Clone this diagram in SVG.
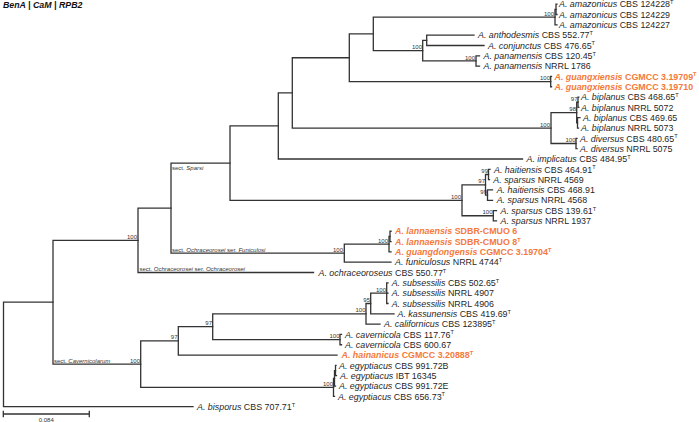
<svg xmlns="http://www.w3.org/2000/svg" width="699" height="422" viewBox="0 0 699 422">
<style>
text{font-family:"Liberation Sans",Arial,sans-serif;}
.lf{font-size:8.9px;fill:#1f1f1f;}
.sp{font-style:italic;}
.nw{font-weight:bold;fill:#f47a3c;}
.sup{font-size:5.6px;}
.bs{font-size:6px;fill:#333;text-anchor:end;}
.sec{font-size:6px;fill:#333;}
.br{fill:none;stroke:#333;stroke-width:1.3;stroke-linecap:square;}
.title{font-size:8.8px;font-weight:bold;font-style:italic;fill:#111;}
</style>
<rect width="699" height="422" fill="#fff"/>
<text class="title" x="3" y="7.8">BenA | CaM | RPB2</text>

<g id="branches" class="br">
<path d="M3.5,302.2V406.68M3.5,302.2H53M3.5,406.68H193"/>
<path d="M53,240.3V364.1M53,240.3H138M53,364.1H140.7"/>
<path d="M138,208.1V272.52M138,208.1H171M138,272.52H313.5"/>
<path d="M171,163.1V253.17M171,163.1H230M171,253.17H344.3"/>
<path d="M230,125.95V200.28M230,125.95H278.3M230,200.28H462"/>
<path d="M278.3,92.89V159M278.3,92.89H292.3M278.3,159H522.5"/>
<path d="M292.3,57.74V128.04M292.3,57.74H349.3M292.3,128.04H551"/>
<path d="M349.3,33.87V81.6M349.3,33.87H373.3M349.3,81.6H550.7"/>
<path d="M373.3,17.1V50.64M373.3,17.1H555M373.3,50.64H422.7"/>
<path d="M555,9.36V24.84M555,9.36H556M555,24.84H557"/>
<path d="M556,4.2V14.52M556,4.2H557M556,14.52H557"/>
<path d="M422.7,40.32V60.96M422.7,40.32H426.7M422.7,60.96H476"/>
<path d="M426.7,35.16V45.48M426.7,35.16H474M426.7,45.48H484"/>
<path d="M476,55.8V66.12M476,55.8H479.5M476,66.12H479.5"/>
<path d="M550.7,76.44V86.76M550.7,76.44H551.5M550.7,86.76H551.5"/>
<path d="M551,112.56V143.52M551,112.56H576.7M551,143.52H576"/>
<path d="M576.7,102.24V122.88M576.7,102.24H578M576.7,122.88H577.5"/>
<path d="M578,97.08V107.4M578,97.08H578.8M578,107.4H578.8"/>
<path d="M577.5,117.72V128.04M577.5,117.72H580M577.5,128.04H578.5"/>
<path d="M576,138.36V148.68M576,138.36H577M576,148.68H577"/>
<path d="M462,184.8V215.76M462,184.8H485.5M462,215.76H493.3"/>
<path d="M485.5,174.48V195.12M485.5,174.48H488.5M485.5,195.12H487.5"/>
<path d="M488.5,169.32V179.64M488.5,169.32H490M488.5,179.64H489.5"/>
<path d="M487.5,189.96V200.28M487.5,189.96H492.5M487.5,200.28H492.5"/>
<path d="M493.3,210.6V220.92M493.3,210.6H496.5M493.3,220.92H496.5"/>
<path d="M344.3,244.14V262.2M344.3,244.14H389M344.3,262.2H391"/>
<path d="M389,236.4V251.88M389,236.4H390M389,251.88H391"/>
<path d="M390,231.24V241.56M390,231.24H391M390,241.56H391"/>
<path d="M140.7,340.9V387.33M140.7,340.9H178.3M140.7,387.33H333.5"/>
<path d="M178.3,326.7V355.08M178.3,326.7H212.7M178.3,355.08H337"/>
<path d="M212.7,313.8V339.6M212.7,313.8H366M212.7,339.6H340"/>
<path d="M366,303.48V324.12M366,303.48H370.7M366,324.12H380"/>
<path d="M370.7,293.16V313.8M370.7,293.16H386.7M370.7,313.8H394"/>
<path d="M386.7,282.84V303.48M386.7,282.84H388M386.7,293.16H388M386.7,303.48H388"/>
<path d="M340,334.44V344.76M340,334.44H341.5M340,344.76H341.5"/>
<path d="M333.5,378.3V396.36M333.5,378.3H334.5M333.5,396.36H334.5"/>
<path d="M334.5,370.56V386.04M334.5,370.56H335.5M334.5,386.04H335.5"/>
<path d="M335.5,365.4V375.72M335.5,365.4H336M335.5,375.72H336.5"/>
</g>

<g id="supports">
<text class="bs" x="137" y="238.8">100</text>
<text class="bs" x="343" y="251.7">100</text>
<text class="bs" x="388" y="242.6">100</text>
<text class="bs" x="461" y="198.8">100</text>
<text class="bs" x="485" y="183.3">97</text>
<text class="bs" x="488" y="173">99</text>
<text class="bs" x="487" y="193.6">99</text>
<text class="bs" x="492.5" y="214.3">100</text>
<text class="bs" x="554" y="15.6">100</text>
<text class="bs" x="422" y="49.1">100</text>
<text class="bs" x="475" y="59.5">100</text>
<text class="bs" x="550" y="80.1">100</text>
<text class="bs" x="550" y="126.5">100</text>
<text class="bs" x="577.5" y="100.7">97</text>
<text class="bs" x="576" y="111">98</text>
<text class="bs" x="575.5" y="142">100</text>
<text class="bs" x="140" y="362.6">100</text>
<text class="bs" x="177.5" y="339.4">97</text>
<text class="bs" x="212" y="325.2">97</text>
<text class="bs" x="365.5" y="312.3">100</text>
<text class="bs" x="370" y="302">95</text>
<text class="bs" x="386" y="291.7">100</text>
<text class="bs" x="339.5" y="338.1">100</text>
<text class="bs" x="333" y="385.8">100</text>
</g>

<g id="sections">
<text class="sec" x="172" y="169.5">sect. <tspan class="sp">Sparsi</tspan></text>
<text class="sec" x="172" y="251.7">sect. <tspan class="sp">Ochraceorosei</tspan> ser. <tspan class="sp">Funiculosi</tspan></text>
<text class="sec" x="139.5" y="271">sect. <tspan class="sp">Ochraceorosei</tspan> ser. <tspan class="sp">Ochraceorosei</tspan></text>
<text class="sec" x="54" y="362.6">sect. <tspan class="sp">Cavernicolarum</tspan></text>
</g>

<g id="leaves" class="lf">
<g id="leaf0"><text x="559" y="7.4"><tspan class="sp">A. amazonicus</tspan> CBS 124228<tspan class="sup" dy="-3.2">T</tspan></text></g>
<g id="leaf1"><text x="559" y="17.72"><tspan class="sp">A. amazonicus</tspan> CBS 124229</text></g>
<g id="leaf2"><text x="559" y="28.04"><tspan class="sp">A. amazonicus</tspan> CBS 124227</text></g>
<g id="leaf3"><text x="478" y="38.36"><tspan class="sp">A. anthodesmis</tspan> CBS 552.77<tspan class="sup" dy="-3.2">T</tspan></text></g>
<g id="leaf4"><text x="488" y="48.68"><tspan class="sp">A. conjunctus</tspan> CBS 476.65<tspan class="sup" dy="-3.2">T</tspan></text></g>
<g id="leaf5"><text x="483.5" y="59"><tspan class="sp">A. panamensis</tspan> CBS 120.45<tspan class="sup" dy="-3.2">T</tspan></text></g>
<g id="leaf6"><text x="483.5" y="69.32"><tspan class="sp">A. panamensis</tspan> NRRL 1786</text></g>
<g id="leaf7"><text class="nw" x="554.5" y="79.64"><tspan class="sp">A. guangxiensis</tspan> CGMCC 3.19709<tspan class="sup" dy="-3.2">T</tspan></text></g>
<g id="leaf8"><text class="nw" x="554.5" y="89.96"><tspan class="sp">A. guangxiensis</tspan> CGMCC 3.19710</text></g>
<g id="leaf9"><text x="581" y="100.28"><tspan class="sp">A. biplanus</tspan> CBS 468.65<tspan class="sup" dy="-3.2">T</tspan></text></g>
<g id="leaf10"><text x="581" y="110.6"><tspan class="sp">A. biplanus</tspan> NRRL 5072</text></g>
<g id="leaf11"><text x="583" y="120.92"><tspan class="sp">A. biplanus</tspan> CBS 469.65</text></g>
<g id="leaf12"><text x="581" y="131.24"><tspan class="sp">A. biplanus</tspan> NRRL 5073</text></g>
<g id="leaf13"><text x="580" y="141.56"><tspan class="sp">A. diversus</tspan> CBS 480.65<tspan class="sup" dy="-3.2">T</tspan></text></g>
<g id="leaf14"><text x="580" y="151.88"><tspan class="sp">A. diversus</tspan> NRRL 5075</text></g>
<g id="leaf15"><text x="526.5" y="162.2"><tspan class="sp">A. implicatus</tspan> CBS 484.95<tspan class="sup" dy="-3.2">T</tspan></text></g>
<g id="leaf16"><text x="494" y="172.52"><tspan class="sp">A. haitiensis</tspan> CBS 464.91<tspan class="sup" dy="-3.2">T</tspan></text></g>
<g id="leaf17"><text x="493.3" y="182.84"><tspan class="sp">A. sparsus</tspan> NRRL 4569</text></g>
<g id="leaf18"><text x="496.7" y="193.16"><tspan class="sp">A. haitiensis</tspan> CBS 468.91</text></g>
<g id="leaf19"><text x="496.7" y="203.48"><tspan class="sp">A. sparsus</tspan> NRRL 4568</text></g>
<g id="leaf20"><text x="500.5" y="213.8"><tspan class="sp">A. sparsus</tspan> CBS 139.61<tspan class="sup" dy="-3.2">T</tspan></text></g>
<g id="leaf21"><text x="500.5" y="224.12"><tspan class="sp">A. sparsus</tspan> NRRL 1937</text></g>
<g id="leaf22"><text class="nw" x="395" y="234.44"><tspan class="sp">A. lannaensis</tspan> SDBR-CMUO 6</text></g>
<g id="leaf23"><text class="nw" x="395" y="244.76"><tspan class="sp">A. lannaensis</tspan> SDBR-CMUO 8<tspan class="sup" dy="-3.2">T</tspan></text></g>
<g id="leaf24"><text class="nw" x="395" y="255.08"><tspan class="sp">A. guangdongensis</tspan> CGMCC 3.19704<tspan class="sup" dy="-3.2">T</tspan></text></g>
<g id="leaf25"><text x="395" y="265.4"><tspan class="sp">A. funiculosus</tspan> NRRL 4744<tspan class="sup" dy="-3.2">T</tspan></text></g>
<g id="leaf26"><text x="318.5" y="275.72"><tspan class="sp">A. ochraceoroseus</tspan> CBS 550.77<tspan class="sup" dy="-3.2">T</tspan></text></g>
<g id="leaf27"><text x="391.7" y="286.04"><tspan class="sp">A. subsessilis</tspan> CBS 502.65<tspan class="sup" dy="-3.2">T</tspan></text></g>
<g id="leaf28"><text x="391.7" y="296.36"><tspan class="sp">A. subsessilis</tspan> NRRL 4907</text></g>
<g id="leaf29"><text x="391.7" y="306.68"><tspan class="sp">A. subsessilis</tspan> NRRL 4906</text></g>
<g id="leaf30"><text x="397.5" y="317"><tspan class="sp">A. kassunensis</tspan> CBS 419.69<tspan class="sup" dy="-3.2">T</tspan></text></g>
<g id="leaf31"><text x="384" y="327.32"><tspan class="sp">A. californicus</tspan> CBS 123895<tspan class="sup" dy="-3.2">T</tspan></text></g>
<g id="leaf32"><text x="345" y="337.64"><tspan class="sp">A. cavernicola</tspan> CBS 117.76<tspan class="sup" dy="-3.2">T</tspan></text></g>
<g id="leaf33"><text x="345" y="347.96"><tspan class="sp">A. cavernicola</tspan> CBS 600.67</text></g>
<g id="leaf34"><text class="nw" x="341.5" y="358.28"><tspan class="sp">A. hainanicus</tspan> CGMCC 3.20888<tspan class="sup" dy="-3.2">T</tspan></text></g>
<g id="leaf35"><text x="339" y="368.6"><tspan class="sp">A. egyptiacus</tspan> CBS 991.72B</text></g>
<g id="leaf36"><text x="340" y="378.92"><tspan class="sp">A. egyptiacus</tspan> IBT 16345</text></g>
<g id="leaf37"><text x="339" y="389.24"><tspan class="sp">A. egyptiacus</tspan> CBS 991.72E</text></g>
<g id="leaf38"><text x="338" y="399.56"><tspan class="sp">A. egyptiacus</tspan> CBS 656.73<tspan class="sup" dy="-3.2">T</tspan></text></g>
<g id="leaf39"><text x="197" y="409.88"><tspan class="sp">A. bisporus</tspan> CBS 707.71<tspan class="sup" dy="-3.2">T</tspan></text></g>
</g>

<g id="scalebar">
<path class="br" d="M3.3,414H89.3M3.3,411.5V416.5M89.3,411.5V416.5"/>
<text class="sec" x="46.3" y="422" text-anchor="middle">0.084</text>
</g>
</svg>
